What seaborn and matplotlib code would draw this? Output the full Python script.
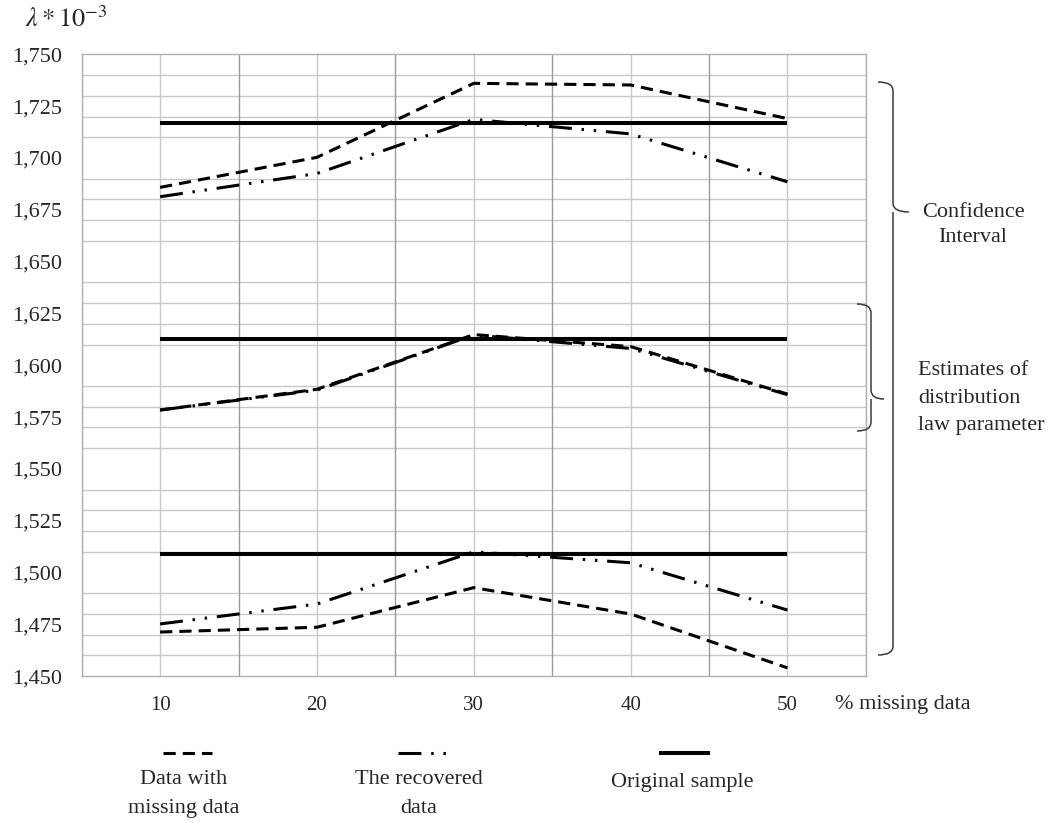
"""Lambda estimates vs. share of missing data (confidence interval bands)."""
import matplotlib
matplotlib.use("Agg")
import matplotlib.pyplot as plt
import numpy as np
import seaborn as sns
from matplotlib.patches import PathPatch
from matplotlib.path import Path
from matplotlib.ticker import FuncFormatter, MultipleLocator

# --- data -----------------------------------------------------------------
pct_missing = [10, 20, 30, 40, 50]

upper_missing = [1.6858, 1.7003, 1.7360, 1.7352, 1.7190]
upper_recovered = [1.6813, 1.6925, 1.7186, 1.7116, 1.6885]
upper_original = [1.7170, 1.7170, 1.7170, 1.7170, 1.7170]

mid_missing = [1.5784, 1.5884, 1.6148, 1.6090, 1.5861]
mid_recovered = [1.5784, 1.5880, 1.6146, 1.6081, 1.5858]
mid_original = [1.6125, 1.6125, 1.6125, 1.6125, 1.6125]

lower_missing = [1.4713, 1.4736, 1.4927, 1.4800, 1.4540]
lower_recovered = [1.4752, 1.4848, 1.5100, 1.5047, 1.4819]
lower_original = [1.5088, 1.5088, 1.5088, 1.5088, 1.5088]

legend_labels = ["Data with\nmissing data", "The recovered\ndata", "Original sample"]

# --- styles ------------------------------------------------------------------
DASHED = (0, (4.0, 2.3))
DASHDOTDOT = (0, (7.5, 3.2, 0.8, 3.2, 0.8, 3.2))
STYLES = {
    "missing": dict(linestyle=DASHED, lw=2.2),
    "recovered": dict(linestyle=DASHDOTDOT, lw=2.2),
    "original": dict(linestyle="-", lw=2.9),
}
SERIF = "Liberation Serif"

sns.set_theme(style="white")
plt.rcParams["font.family"] = [SERIF, "DejaVu Serif"]
plt.rcParams["mathtext.fontset"] = "stix"

fig = plt.figure(figsize=(10.54, 8.23), dpi=100)
ax = fig.add_axes([0.0775, 0.1784, 0.744, 0.7556])

series = [
    (upper_missing, "missing"), (upper_recovered, "recovered"), (upper_original, "original"),
    (mid_missing, "missing"), (mid_recovered, "recovered"), (mid_original, "original"),
    (lower_missing, "missing"), (lower_recovered, "recovered"), (lower_original, "original"),
]
for values, kind in series:
    sns.lineplot(x=pct_missing, y=values, ax=ax, color="black",
                 solid_capstyle="butt", dash_capstyle="butt", zorder=3)
    line = ax.lines[-1]
    line.set_linestyle(STYLES[kind]["linestyle"])
    line.set_linewidth(STYLES[kind]["lw"])

ax.set_xlim(5, 55)
ax.set_ylim(1.45, 1.75)

# labels every 0.025 / every 10 %, grid every 0.01 / every 5 %
ax.yaxis.set_major_locator(MultipleLocator(0.025))
ax.yaxis.set_minor_locator(MultipleLocator(0.01))
ax.xaxis.set_major_locator(MultipleLocator(10))
ax.xaxis.set_minor_locator(MultipleLocator(5))
ax.yaxis.set_major_formatter(FuncFormatter(lambda v, _: f"{v:.3f}".replace(".", ",")))
ax.set_xticks([10, 20, 30, 40, 50])
ax.tick_params(axis="both", which="both", length=0)
ax.tick_params(axis="y", labelsize=16, pad=14)
ax.tick_params(axis="x", labelsize=15, pad=14)

ax.grid(False)
ax.grid(True, which="minor", axis="y", color="#c8c8c8", lw=1.0, zorder=0)
for xv in range(5, 56, 5):
    shade = "#9a9a9a" if xv % 10 == 5 and 5 < xv < 55 else "#c8c8c8"
    ax.axvline(xv, color=shade, lw=1.0, zorder=1)
for spine in ax.spines.values():
    spine.set_color("#b0b0b0")
    spine.set_linewidth(1.0)
ax.set_xlabel("")
ax.set_ylabel("")

# --- overlay in pixel coordinates for annotations ---------------------------
ov = fig.add_axes([0, 0, 1, 1], zorder=5)
ov.set_xlim(0, 1054)
ov.set_ylim(823, 0)
ov.axis("off")
ov.patch.set_alpha(0)

ov.text(25, 19, r"$\lambda * 10^{-3}$", fontsize=19, ha="left", va="center")
ov.text(903, 705, "% missing data", fontsize=16, ha="center", va="center")


def brace(x0, xv, xt, ytop, ytip, ybot, r=9):
    verts = [(x0, ytop), (xv, ytop), (xv, ytop + r),
             (xv, ytip - r), (xv, ytip), (xt, ytip),
             (xv, ytip), (xv, ytip + r),
             (xv, ybot - r), (xv, ybot), (x0, ybot)]
    codes = [Path.MOVETO, Path.CURVE3, Path.CURVE3,
             Path.LINETO, Path.CURVE3, Path.CURVE3,
             Path.MOVETO, Path.CURVE3,
             Path.LINETO, Path.CURVE3, Path.CURVE3]
    ov.add_patch(PathPatch(Path(verts, codes), fill=False,
                           edgecolor="#3a3a3a", lw=1.1))


brace(878, 893, 909, 82, 212, 655)
brace(857, 871, 884, 304, 399, 431)

ov.text(973, 225, "Confidence\nInterval", fontsize=16, ha="center",
        va="center", linespacing=1.45)
ov.text(918, 398, "Estimates of\ndistribution\nlaw parameter", fontsize=16,
        ha="left", va="center", linespacing=1.62)

# --- legend below the chart ---------------------------------------------------
legend_spans = [(163, 212), (398, 447), (659, 710)]
legend_kinds = ["missing", "recovered", "original"]
legend_text_y = [794, 794, 783]
for (xa, xb), kind, label, ty in zip(legend_spans, legend_kinds, legend_labels, legend_text_y):
    ov.plot([xa, xb], [753, 753], color="black",
            linestyle=STYLES[kind]["linestyle"], lw=STYLES[kind]["lw"],
            dash_capstyle="butt", solid_capstyle="butt")
    ov.text((xa + xb) / 2 - 4 if kind != "original" else (xa + xb) / 2 - 2, ty,
            label, fontsize=16, ha="center", va="center", linespacing=1.65)

fig.savefig("out.png", dpi=100)
